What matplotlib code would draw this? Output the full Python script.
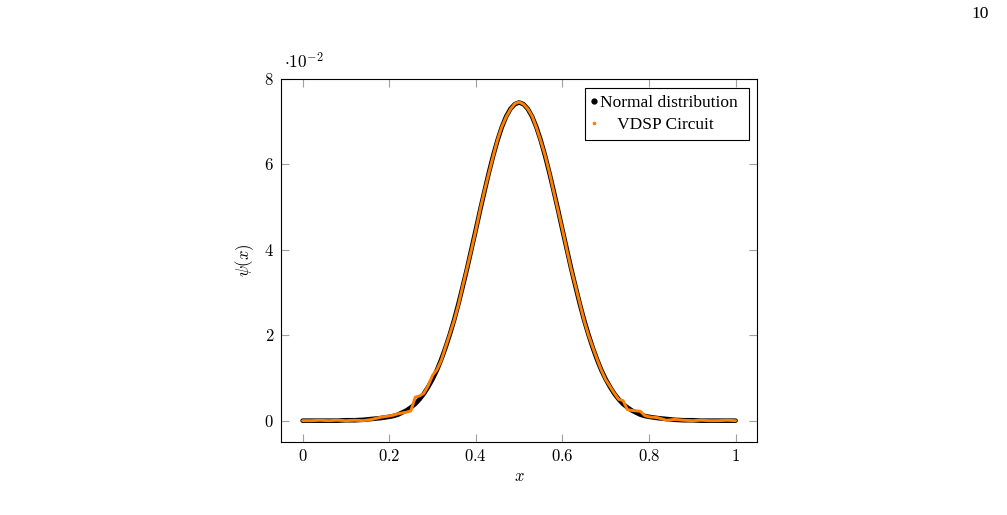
import matplotlib.pyplot as plt
from matplotlib.lines import Line2D

plt.rcParams['mathtext.fontset'] = 'cm'
plt.rcParams['font.family'] = 'serif'
plt.rcParams['font.serif'] = ['Liberation Serif', 'DejaVu Serif']

# data (coarse in the tails, finer round the peak)
x = [0.00, 0.02, 0.04, 0.06, 0.08, 0.10, 0.12, 0.14, 0.16, 0.18,
     0.20, 0.21, 0.22, 0.23, 0.24, 0.25, 0.26, 0.27, 0.28, 0.29,
     0.30, 0.31, 0.32, 0.33, 0.34, 0.35, 0.36, 0.37, 0.38, 0.39,
     0.40, 0.41, 0.42, 0.43, 0.44, 0.45, 0.46, 0.47, 0.48, 0.49,
     0.50, 0.51, 0.52, 0.53, 0.54, 0.55, 0.56, 0.57, 0.58, 0.59,
     0.60, 0.61, 0.62, 0.63, 0.64, 0.65, 0.66, 0.67, 0.68, 0.69,
     0.70, 0.71, 0.72, 0.73, 0.74, 0.75, 0.76, 0.77, 0.78, 0.79,
     0.80, 0.82, 0.84, 0.86, 0.88, 0.90, 0.92, 0.94, 0.96, 0.98, 1.00]

normal = [0.0000, 0.0000, 0.0000, 0.0000, 0.0000, 0.0001, 0.0001, 0.0002, 0.0004, 0.0006,
          0.0009, 0.0011, 0.0014, 0.0019, 0.0024, 0.0031, 0.0039, 0.0050, 0.0063, 0.0079,
          0.0097, 0.0118, 0.0143, 0.0171, 0.0202, 0.0236, 0.0274, 0.0315, 0.0357, 0.0402,
          0.0447, 0.0493, 0.0537, 0.0580, 0.0620, 0.0656, 0.0687, 0.0712, 0.0730, 0.0741,
          0.0745, 0.0741, 0.0730, 0.0712, 0.0687, 0.0656, 0.0620, 0.0580, 0.0537, 0.0493,
          0.0447, 0.0402, 0.0357, 0.0315, 0.0274, 0.0236, 0.0202, 0.0171, 0.0143, 0.0118,
          0.0097, 0.0079, 0.0063, 0.0050, 0.0039, 0.0031, 0.0024, 0.0019, 0.0014, 0.0011,
          0.0009, 0.0006, 0.0004, 0.0002, 0.0001, 0.0001, 0.0000, 0.0000, 0.0000, 0.0000, 0.0000]

vdsp = [0.0000, 0.0000, 0.0001, 0.0000, 0.0001, 0.0000, 0.0001, 0.0000, 0.0003, 0.0008,
        0.0011, 0.0013, 0.0016, 0.0018, 0.0020, 0.0023, 0.0055, 0.0058, 0.0064, 0.0082,
        0.0106, 0.0119, 0.0141, 0.0172, 0.0203, 0.0235, 0.0272, 0.0316, 0.0358, 0.0401,
        0.0446, 0.0494, 0.0538, 0.0579, 0.0619, 0.0657, 0.0688, 0.0711, 0.0729, 0.0742,
        0.0746, 0.0741, 0.0730, 0.0713, 0.0686, 0.0655, 0.0621, 0.0581, 0.0536, 0.0492,
        0.0448, 0.0401, 0.0356, 0.0316, 0.0275, 0.0235, 0.0201, 0.0172, 0.0144, 0.0118,
        0.0096, 0.0080, 0.0064, 0.0050, 0.0047, 0.0026, 0.0024, 0.0023, 0.0022, 0.0012,
        0.0009, 0.0007, 0.0001, 0.0003, 0.0001, 0.0000, 0.0001, 0.0000, 0.0000, 0.0001, 0.0000]

xticks = [0, 0.2, 0.4, 0.6, 0.8, 1.0]
xtick_labels = ['$0$', '$0.2$', '$0.4$', '$0.6$', '$0.8$', '$1$']
yticks = [0, 0.02, 0.04, 0.06, 0.08]
ytick_labels = ['$0$', '$2$', '$4$', '$6$', '$8$']

orange = '#ff8000'

fig = plt.figure(figsize=(10.07, 5.15), dpi=100)
ax = fig.add_axes([0.279, 0.1417, 0.473, 0.705])

ax.plot(x, normal, color='black', lw=3.3, solid_capstyle='round', solid_joinstyle='round')
ax.plot(x, vdsp, color=orange, lw=2.1, solid_capstyle='round', solid_joinstyle='round')

ax.set_xlim(-0.05, 1.05)
ax.set_ylim(-0.005, 0.08)
ax.set_xticks(xticks, xtick_labels, fontsize=12)
ax.set_yticks(yticks, ytick_labels, fontsize=12)
ax.tick_params(direction='in', length=6, width=0.8, color='#a0a0a0',
               top=True, right=True, pad=5)
for s in ax.spines.values():
    s.set_linewidth(0.8)

ax.set_xlabel('$x$', fontsize=12, labelpad=3)
ax.set_ylabel(r'$\psi(x)$', fontsize=12, labelpad=6)

fig.text(284 / 1007, 1 - 62 / 515, r'$\cdot 10^{-2}$', ha='left', va='center', fontsize=12.5)
fig.text(980 / 1007, 1 - 14 / 515, '10', ha='center', va='center', fontsize=12.5)

handles = [Line2D([], [], color='black', marker='o', ls='none', ms=3.5),
           Line2D([], [], color=orange, marker='o', ls='none', ms=1.6)]
leg = ax.legend(handles, ['Normal distribution ', '    VDSP Circuit'],
                loc='upper right', fontsize=12.5, fancybox=False, framealpha=1,
                edgecolor='black', borderpad=0.4, labelspacing=0.35,
                handlelength=0.25, handletextpad=0.2, borderaxespad=0.5)
leg.get_frame().set_linewidth(0.8)

fig.savefig('out.png', dpi=100)
